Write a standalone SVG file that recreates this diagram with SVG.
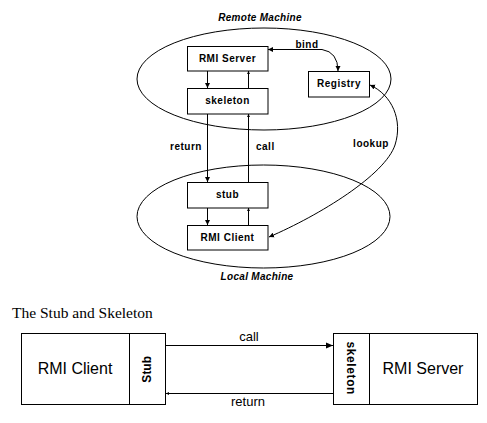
<svg xmlns="http://www.w3.org/2000/svg" width="487" height="423" viewBox="0 0 487 423">
<style>
.box{fill:#fff;stroke:#000;stroke-width:1}
.ell{fill:none;stroke:#000;stroke-width:1}
.ln{fill:none;stroke:#000;stroke-width:1}
.lb{font-family:"Liberation Sans",Arial,sans-serif;font-weight:bold;font-size:10px;letter-spacing:0.5px;fill:#000}
.it{font-family:"Liberation Sans",Arial,sans-serif;font-weight:bold;font-style:italic;font-size:10px;letter-spacing:0.3px;fill:#000}
.big{font-family:"Liberation Sans",Arial,sans-serif;font-size:16px;fill:#000}
.mid{font-family:"Liberation Sans",Arial,sans-serif;font-size:13px;fill:#000}
.rot{font-family:"Liberation Sans",Arial,sans-serif;font-weight:bold;font-size:12px;fill:#000}
.ttl{font-family:"Liberation Serif","Times New Roman",serif;font-size:15.5px;fill:#000}
</style>
<defs>
<marker id="ah" markerUnits="userSpaceOnUse" markerWidth="6" markerHeight="6" refX="5" refY="3" orient="auto-start-reverse"><path d="M0,0.5 L5,3 L0,5.5 z" fill="#000"/></marker>
<marker id="as" markerUnits="userSpaceOnUse" markerWidth="4" markerHeight="4" refX="3" refY="2" orient="auto-start-reverse"><path d="M0,0.5 L3,2 L0,3.5 z" fill="#000"/></marker>
<marker id="ab" markerUnits="userSpaceOnUse" markerWidth="8" markerHeight="8" refX="7" refY="4" orient="auto-start-reverse"><path d="M0,1 L7,4 L0,7 z" fill="#000"/></marker>
</defs>
<rect width="487" height="423" fill="#fff"/>

<g id="remote-machine">
<ellipse class="ell" cx="264" cy="79" rx="127" ry="51"/>
<text class="it" x="260" y="21" text-anchor="middle">Remote Machine</text>
</g>
<g id="local-machine">
<ellipse class="ell" cx="263.5" cy="216.5" rx="126.5" ry="51.5"/>
<text class="it" x="257" y="279.5" text-anchor="middle">Local Machine</text>
</g>

<g id="connectors">
<line class="ln" x1="207.5" y1="71" x2="207.5" y2="88" marker-end="url(#ah)"/>
<line class="ln" x1="248.5" y1="88" x2="248.5" y2="71" marker-end="url(#as)"/>
<line class="ln" x1="207.5" y1="114" x2="207.5" y2="182" marker-end="url(#ah)"/>
<line class="ln" x1="248.5" y1="182" x2="248.5" y2="114" marker-end="url(#as)"/>
<line class="ln" x1="207.5" y1="208" x2="207.5" y2="225" marker-end="url(#ah)"/>
<line class="ln" x1="248.5" y1="225" x2="248.5" y2="208" marker-end="url(#as)"/>
<path class="ln" d="M268,49.5 L322,49.5 Q338,52 338,71" marker-start="url(#ah)" marker-end="url(#ah)"/>
<path class="ln" d="M370,85 C392,95 403,120 395,145 C385,175 320,215 269,237" marker-start="url(#ah)" marker-end="url(#ah)"/>
<text class="lb" x="307" y="48" text-anchor="middle">bind</text>
<text class="lb" x="186" y="150" text-anchor="middle">return</text>
<text class="lb" x="256" y="150">call</text>
<text class="lb" x="371" y="147" text-anchor="middle">lookup</text>
<line class="ln" x1="166" y1="345.5" x2="333" y2="345.5" marker-end="url(#ab)"/>
<line class="ln" x1="333" y1="393.5" x2="166" y2="393.5" marker-end="url(#as)"/>
<text class="mid" x="249" y="340.5" text-anchor="middle">call</text>
<text class="mid" x="248" y="406" text-anchor="middle">return</text>
</g>

<g id="rmi-server">
<rect class="box" x="187.5" y="46.5" width="80.5" height="24.5"/>
<text class="lb" x="227.5" y="62" text-anchor="middle">RMI Server</text>
</g>
<g id="skeleton">
<rect class="box" x="187.5" y="88.5" width="80.5" height="25.5"/>
<text class="lb" x="227.5" y="104" text-anchor="middle">skeleton</text>
</g>
<g id="registry">
<rect class="box" x="308.5" y="71.5" width="61" height="25.5"/>
<text class="lb" x="339" y="87" text-anchor="middle">Registry</text>
</g>
<g id="stub">
<rect class="box" x="187.5" y="182.5" width="80.5" height="25.5"/>
<text class="lb" x="227.5" y="198" text-anchor="middle">stub</text>
</g>
<g id="rmi-client">
<rect class="box" x="187.5" y="225.5" width="80.5" height="24.5"/>
<text class="lb" x="227.5" y="241" text-anchor="middle">RMI Client</text>
</g>

<text class="ttl" x="12" y="317.5">The Stub and Skeleton</text>

<g id="client-block">
<rect class="box" x="21.5" y="333.5" width="144" height="71"/>
<line class="ln" x1="129.5" y1="333.5" x2="129.5" y2="404.5"/>
<text class="big" x="75" y="374" text-anchor="middle">RMI Client</text>
<text class="rot" transform="translate(150.5,369.3) rotate(-90)" text-anchor="middle">Stub</text>
</g>
<g id="server-block">
<rect class="box" x="333.5" y="333.5" width="144" height="71"/>
<line class="ln" x1="369.5" y1="333.5" x2="369.5" y2="404.5"/>
<text class="big" x="423" y="374" text-anchor="middle">RMI Server</text>
<text class="rot" transform="translate(347,368.3) rotate(90)" text-anchor="middle" letter-spacing="0.6">skeleton</text>
</g>
</svg>
